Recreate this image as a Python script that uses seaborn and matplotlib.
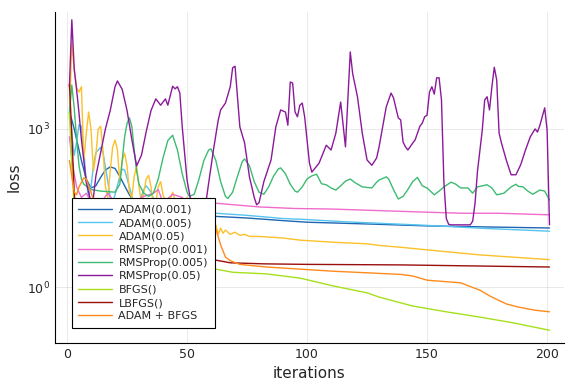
import numpy as np
import pandas as pd
import seaborn as sns
from matplotlib import pyplot as plt

# values: iteration and log10(loss)
labels = ["ADAM(0.001)", "ADAM(0.005)", "ADAM(0.05)", "RMSProp(0.001)", "RMSProp(0.005)",
          "RMSProp(0.05)", "BFGS()", "LBFGS()", "ADAM + BFGS"]
colors = ["#1f66b0", "#56c4ee", "#fcc02a", "#f06ccc", "#3dbb72",
          "#8a1a9a", "#a5e01a", "#9b0e0e", "#ff8a1c"]

adam001_it = [1, 2, 3, 4, 6, 8, 10, 12, 14, 16, 18, 20, 22, 24, 26, 28, 30, 35, 40, 50, 62, 75, 90,
              100, 115, 130, 150, 175, 201]
adam001_lg = [3.3, 3.17, 3.0, 2.8, 2.4, 2.05, 1.88, 1.92, 2.08, 2.22, 2.28, 2.25, 2.1, 1.92, 1.75,
              1.62, 1.55, 1.5, 1.45, 1.38, 1.34, 1.31, 1.26, 1.23, 1.21, 1.19, 1.16, 1.14, 1.12]

adam005_it = [1, 2, 3, 4, 5, 6, 7, 8, 9, 10, 11, 12, 14, 15, 17, 18, 19, 20, 22, 23, 24, 26, 28, 30,
              32, 33, 35, 37, 40, 45, 50, 55, 62, 75, 90, 100, 115, 130, 150, 175, 201]
adam005_lg = [3.4, 2.9, 2.5, 2.75, 3.08, 3.05, 2.6, 2.0, 1.7, 1.9, 2.3, 2.55, 2.65, 2.55, 2.0, 1.7,
              1.6, 1.75, 2.1, 2.24, 2.22, 1.9, 1.55, 1.6, 1.85, 1.92, 1.8, 1.55, 1.52, 1.48, 1.45,
              1.42, 1.40, 1.36, 1.30, 1.28, 1.24, 1.21, 1.17, 1.11, 1.06]

adam05_it = [1, 2, 3, 4, 5, 6, 7, 8, 9, 10, 11, 12, 13, 14, 15, 16, 17, 18, 19, 20, 21, 22, 23, 24,
             25, 26, 27, 28, 29, 30, 31, 32, 33, 34, 35, 36, 37, 38, 39, 40, 42, 44, 46, 48, 50,
             52, 55, 58, 62, 63, 64, 65, 66, 68, 70, 72, 74, 76, 80, 90, 97, 111, 125, 130, 140,
             158, 172, 201]
adam05_lg = [3.2, 4.63, 4.1, 3.78, 3.7, 3.8, 2.4, 2.9, 3.32, 3.0, 2.2, 2.5, 3.0, 3.05, 2.6, 1.9,
             1.7, 2.2, 2.65, 2.79, 2.6, 2.0, 2.4, 2.54, 2.3, 1.8, 1.7, 2.1, 2.3, 1.9, 1.6, 1.8,
             2.05, 2.12, 1.9, 1.55, 1.6, 1.9, 2.0, 1.75, 1.5, 1.8, 1.5, 1.4, 1.7, 1.4, 1.3, 1.25,
             1.18, 1.0, 1.12, 1.02, 1.08, 1.0, 1.04, 0.98, 1.0, 0.96, 0.96, 0.93, 0.89, 0.85, 0.82,
             0.79, 0.75, 0.67, 0.61, 0.52]

rms001_it = [1, 2, 3, 4, 6, 8, 11, 14, 17, 20, 24, 28, 32, 36, 38, 40, 44, 48, 50, 52, 55, 58,
             62, 80, 95, 110, 130, 150, 165, 180, 201]
rms001_lg = [2.85, 2.45, 2.15, 1.9, 1.7, 1.78, 1.55, 1.6, 1.78, 1.6, 1.5, 1.62, 1.72, 1.78, 1.85,
             1.6, 1.76, 1.7, 1.55, 1.68, 1.6, 1.62, 1.59, 1.52, 1.49, 1.48, 1.45, 1.42, 1.40,
             1.40, 1.37]

rms005_it = [1, 2, 3, 4, 5, 6, 7, 10, 14, 20, 22, 23, 24, 25, 26, 27, 28, 29, 30, 32, 34, 36, 38,
             40, 42, 44, 46, 48, 50, 51, 53, 55, 57, 59, 60, 62, 64, 66, 67, 69, 71, 73, 74, 76,
             78, 80, 82, 84, 86, 88, 89, 91, 93, 95, 96, 98, 100, 102, 104, 106, 108, 110, 112,
             114, 116, 118, 120, 123, 127, 129, 130, 133, 134, 136, 138, 140, 142, 144, 146, 148,
             150, 153, 155, 157, 160, 162, 164, 167, 169, 171, 175, 177, 179, 182, 185, 187, 188,
             190, 192, 194, 197, 199, 201]
rms005_lg = [3.3, 3.83, 3.4, 2.8, 2.3, 2.05, 1.95, 1.85, 1.82, 1.8, 1.95, 2.4, 2.85, 3.1, 3.21,
             3.05, 2.6, 2.2, 1.95, 1.78, 1.72, 1.78, 2.05, 2.45, 2.78, 2.88, 2.6, 2.15, 1.8, 1.72,
             1.76, 2.05, 2.4, 2.6, 2.62, 2.4, 2.0, 1.72, 1.68, 1.8, 2.1, 2.38, 2.43, 2.3, 2.0, 1.8,
             1.76, 1.9, 2.1, 2.24, 2.26, 2.15, 1.95, 1.82, 1.8, 1.9, 2.05, 2.11, 2.14, 1.96, 1.94,
             1.88, 1.84, 1.92, 2.01, 2.05, 1.98, 1.9, 1.88, 1.99, 2.03, 2.09, 2.05, 1.85, 1.67,
             1.72, 1.85, 2.0, 2.08, 1.92, 1.88, 1.75, 1.82, 1.9, 1.99, 1.95, 1.88, 1.88, 1.78, 1.9,
             1.94, 1.88, 1.75, 1.78, 1.9, 1.95, 1.91, 1.9, 1.82, 1.76, 1.84, 1.82, 1.65]

rms05_it = [1, 2, 3, 4, 5, 6, 8, 10, 11, 12, 14, 16, 18, 20, 21, 23, 25, 27, 29, 31, 33, 35, 37,
            39, 41, 42, 44, 45, 46, 47, 48, 50, 52, 55, 58, 59, 61, 63, 64, 66, 68, 69, 70, 72,
            74, 76, 78, 79, 80, 82, 85, 87, 89, 91, 92, 93, 94, 95, 96, 97, 98, 99, 101, 102,
            105, 108, 110, 112, 114, 116, 118, 119, 121, 123, 125, 127, 129, 130, 133, 135, 136,
            138, 139, 140, 141, 142, 144, 145, 147, 148, 149, 150, 151, 152, 153, 154, 155, 156,
            157, 158, 159, 160, 168, 169, 170, 171, 173, 174, 175, 176, 177, 178, 179, 180, 181,
            183, 185, 187, 189, 191, 193, 195, 196, 197, 199, 200, 201]
rms05_lg = [3.8, 5.07, 4.15, 3.74, 3.3, 2.8, 2.0, 1.6, 1.7, 2.1, 2.55, 3.0, 3.35, 3.8, 3.91, 3.75,
            3.35, 2.8, 2.3, 2.5, 2.95, 3.35, 3.57, 3.45, 3.57, 3.45, 3.81, 3.76, 3.8, 3.68, 3.04,
            2.03, 1.52, 1.1, 1.65, 1.97, 2.6, 3.17, 3.36, 3.49, 3.8, 4.16, 4.19, 3.04, 2.73, 2.09,
            1.7, 1.56, 1.6, 2.0, 2.41, 3.04, 3.36, 3.32, 3.07, 3.89, 3.87, 3.32, 3.23, 3.45, 3.49,
            3.23, 2.35, 2.18, 2.35, 2.69, 2.6, 2.92, 3.51, 2.66, 4.46, 4.05, 3.61, 2.92, 2.41,
            2.31, 2.45, 2.66, 3.42, 3.68, 3.59, 3.21, 3.17, 2.75, 2.66, 2.6, 2.73, 2.79, 3.05,
            3.11, 3.23, 3.26, 3.7, 3.8, 3.66, 3.97, 3.97, 3.55, 2.0, 1.3, 1.19, 1.18, 1.18, 1.25,
            1.6, 2.2, 2.98, 3.55, 3.61, 3.36, 3.8, 4.17, 3.93, 2.92, 2.73, 2.41, 2.13, 2.13, 2.32,
            2.6, 2.85, 3.0, 2.94, 3.07, 3.4, 2.98, 1.18]

bfgs_it = [1, 2, 3, 4, 6, 10, 20, 40, 62, 69, 83, 97, 111, 125, 130, 139, 144, 158, 172, 186, 201]
bfgs_lg = [3.3, 2.3, 1.5, 1.1, 0.8, 0.6, 0.5, 0.42, 0.34, 0.28, 0.25, 0.17, 0.02, -0.11, -0.19,
           -0.3, -0.36, -0.47, -0.57, -0.68, -0.82]

lbfgs_it = [1, 2, 3, 4, 6, 10, 20, 40, 55, 62, 68, 82, 100, 139, 170, 201]
lbfgs_lg = [3.85, 2.9, 1.8, 1.2, 0.9, 0.75, 0.65, 0.57, 0.53, 0.51, 0.46, 0.44, 0.43, 0.42, 0.4,
            0.38]

adambfgs_it = [1, 2, 3, 4, 5, 7, 8, 10, 12, 15, 20, 30, 40, 50, 58, 62, 64, 66, 68, 72, 83, 97,
               111, 125, 139, 144, 150, 164, 172, 177, 183, 188, 195, 201]
adambfgs_lg = [2.4, 2.1, 1.8, 1.75, 1.9, 2.07, 2.05, 1.8, 1.5, 1.4, 1.35, 1.3, 1.25, 1.2, 1.15,
               1.1, 0.8, 0.57, 0.5, 0.43, 0.38, 0.34, 0.3, 0.27, 0.24, 0.21, 0.13, 0.08, -0.06,
               -0.19, -0.32, -0.38, -0.44, -0.47]

series = [(adam001_it, adam001_lg), (adam005_it, adam005_lg), (adam05_it, adam05_lg),
          (rms001_it, rms001_lg), (rms005_it, rms005_lg), (rms05_it, rms05_lg),
          (bfgs_it, bfgs_lg), (lbfgs_it, lbfgs_lg), (adambfgs_it, adambfgs_lg)]

frames = []
for name, (it, lg) in zip(labels, series):
    frames.append(pd.DataFrame({"iteration": it, "loss": 10.0 ** np.array(lg), "optimizer": name}))
df = pd.concat(frames, ignore_index=True)

sns.set_style("white")
plt.rcParams['font.family'] = ['DejaVu Sans']

fig = plt.figure(figsize=(5.76, 3.84), dpi=100)
ax = fig.add_axes([0.0955, 0.107, 0.8835, 0.862])

sns.lineplot(data=df, x="iteration", y="loss", hue="optimizer", hue_order=labels,
             palette=colors, estimator=None, linewidth=1.0, ax=ax)

ax.set_yscale("log")
ax.set_xlim(-5, 207)
ax.set_ylim(10 ** -1.06, 10 ** 5.22)
ax.set_xticks([0, 50, 100, 150, 200])
ax.set_yticks([1, 1000])
ax.yaxis.set_minor_locator(plt.NullLocator())
ax.grid(True, color="#000000", alpha=0.1, linewidth=0.6)
for s in ["top", "right"]:
    ax.spines[s].set_visible(False)
for s in ["left", "bottom"]:
    ax.spines[s].set_color("black")
    ax.spines[s].set_linewidth(0.8)
ax.tick_params(direction="in", length=4, width=0.8, labelsize=9, color="black")
ax.set_xlabel("iterations", fontsize=11)
ax.set_ylabel("loss", fontsize=11)

leg = ax.legend(loc="lower left", bbox_to_anchor=(0.033, 0.045), borderaxespad=0,
                fontsize=8, frameon=True, fancybox=False, edgecolor="black",
                handlelength=3.0, labelspacing=0.3, borderpad=0.6, handletextpad=0.6)
leg.get_frame().set_linewidth(0.8)
leg.get_frame().set_alpha(1.0)

plt.savefig("out.png", dpi=100)
